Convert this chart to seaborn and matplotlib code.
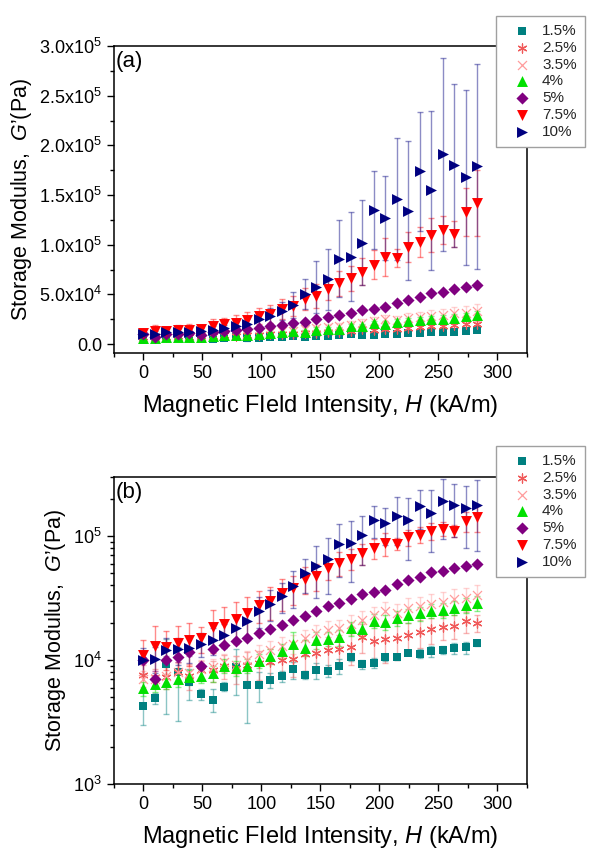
import numpy as np
import pandas as pd
import seaborn as sns
import matplotlib.pyplot as plt
from matplotlib.ticker import MultipleLocator, FuncFormatter, LogLocator, NullFormatter

sns.set_theme(style="ticks")
plt.rcParams['font.family'] = ['Liberation Sans', 'DejaVu Sans']
plt.rcParams['mathtext.fontset'] = 'custom'
plt.rcParams['mathtext.rm'] = 'Liberation Sans'
plt.rcParams['mathtext.it'] = 'Liberation Sans:italic'
plt.rcParams['mathtext.bf'] = 'Liberation Sans:bold'

# magnetic field intensity (kA/m)
H = [0, 9.8, 19.5, 29.3, 39.0, 48.8, 58.6, 68.3, 78.1, 87.8, 97.6, 107.4, 117.1, 126.9, 136.6,
     146.4, 156.2, 165.9, 175.7, 185.4, 195.2, 205.0, 214.7, 224.5, 234.2, 244.0, 253.8, 263.5, 273.3, 283.0]

# storage modulus G' (Pa) and error per concentration
g15 = [4.3e3, 4.9e3, 9.3e3, 8.0e3, 6.6e3, 5.3e3, 4.8e3, 6.1e3, 8.8e3, 6.3e3, 6.3e3, 6.9e3, 7.4e3, 8.4e3, 7.6e3,
       8.3e3, 8.2e3, 9.0e3, 1.06e4, 9.3e3, 9.5e3, 1.05e4, 1.06e4, 1.14e4, 1.13e4, 1.18e4, 1.21e4, 1.25e4, 1.27e4, 1.37e4]
e15 = [1.3e3, 0.5e3, 5.6e3, 4.8e3, 1.8e3, 0.5e3, 1.0e3, 0.5e3, 3.6e3, 3.2e3, 1.7e3, 0.9e3, 0.8e3, 1.3e3, 0.5e3,
       1.2e3, 0.9e3, 1.3e3, 0.8e3, 0.8e3, 0.9e3, 0.6e3, 0.5e3, 0.5e3, 0.9e3, 1.2e3, 1.0e3, 1.3e3, 1.4e3, 0.6e3]

g25 = [7.6e3, 7.3e3, 7.3e3, 8.0e3, 7.5e3, 8.3e3, 8.3e3, 9.0e3, 8.6e3, 9.2e3, 9.4e3, 9.7e3, 1.0e4, 1.03e4, 1.13e4,
       1.15e4, 1.2e4, 1.22e4, 1.28e4, 1.55e4, 1.43e4, 1.47e4, 1.5e4, 1.6e4, 1.67e4, 1.77e4, 1.86e4, 1.9e4, 2.05e4, 2.0e4]
e25 = [1.5e3, 1.2e3, 1.5e3, 1.6e3, 1.8e3, 1.5e3, 1.6e3, 2.0e3, 2.2e3, 2.4e3, 2.5e3, 2.5e3, 2.6e3, 3.0e3, 3.2e3,
       3.0e3, 3.4e3, 3.6e3, 3.6e3, 4.0e3, 5.2e3, 5.2e3, 5.0e3, 4.0e3, 4.2e3, 4.2e3, 4.0e3, 4.2e3, 4.0e3, 3.0e3]

g35 = [7.0e3, 7.0e3, 7.5e3, 8.0e3, 7.8e3, 8.5e3, 8.8e3, 9.6e3, 9.2e3, 1.0e4, 1.12e4, 1.2e4, 1.3e4, 1.35e4, 1.5e4,
       1.65e4, 1.75e4, 1.8e4, 1.95e4, 2.1e4, 2.3e4, 2.5e4, 2.4e4, 2.65e4, 2.75e4, 2.85e4, 2.95e4, 3.1e4, 3.15e4, 3.35e4]
e35 = [1.2e3, 1.2e3, 1.3e3, 1.5e3, 1.4e3, 1.5e3, 1.5e3, 1.6e3, 1.5e3, 1.8e3, 2.0e3, 2.2e3, 2.5e3, 2.4e3, 2.6e3,
       2.8e3, 3.0e3, 3.0e3, 3.5e3, 3.8e3, 4.0e3, 4.2e3, 4.2e3, 5.0e3, 5.0e3, 5.5e3, 6.0e3, 6.5e3, 6.8e3, 7.0e3]

g4 = [5.9e3, 6.4e3, 6.7e3, 7.1e3, 7.3e3, 7.5e3, 7.8e3, 9.0e3, 8.7e3, 9.0e3, 9.9e3, 1.08e4, 1.19e4, 1.35e4, 1.26e4,
      1.45e4, 1.49e4, 1.53e4, 1.8e4, 1.77e4, 2.08e4, 2.02e4, 2.18e4, 2.3e4, 2.38e4, 2.5e4, 2.55e4, 2.65e4, 2.78e4, 2.88e4]
e4 = [0.8e3, 0.9e3, 0.9e3, 1.0e3, 1.0e3, 1.0e3, 1.1e3, 1.2e3, 1.2e3, 1.2e3, 1.3e3, 1.5e3, 1.6e3, 3.5e3, 1.8e3,
      2.2e3, 2.0e3, 2.2e3, 2.4e3, 2.5e3, 2.8e3, 2.8e3, 3.0e3, 3.0e3, 3.2e3, 3.3e3, 3.5e3, 3.5e3, 3.8e3, 4.0e3]

g5 = [1.0e4, 7.1e3, 1.0e4, 1.05e4, 1.16e4, 8.9e3, 1.22e4, 1.32e4, 1.43e4, 1.52e4, 1.66e4, 1.78e4, 1.92e4, 2.1e4, 2.25e4,
      2.5e4, 2.75e4, 2.9e4, 3.1e4, 3.4e4, 3.55e4, 3.7e4, 4.1e4, 4.4e4, 4.7e4, 5.1e4, 5.2e4, 5.5e4, 5.75e4, 5.95e4]
e5 = [0.6e3, 1.0e3, 0.8e3, 0.8e3, 0.8e3, 0.6e3, 0.6e3, 0.5e3, 0.5e3, 0.5e3, 0.5e3, 0.5e3, 0.5e3, 0.5e3, 0.5e3,
      0.6e3, 0.6e3, 0.6e3, 0.7e3, 0.7e3, 0.7e3, 0.8e3, 0.8e3, 0.9e3, 0.9e3, 1.0e3, 1.0e3, 1.1e3, 1.1e3, 1.2e3]

g75 = [1.1e4, 1.3e4, 1.28e4, 1.37e4, 1.45e4, 1.5e4, 1.84e4, 1.97e4, 2.15e4, 2.4e4, 2.8e4, 3.0e4, 3.5e4, 3.8e4, 4.5e4,
       4.8e4, 5.5e4, 6.1e4, 6.6e4, 7.3e4, 8.0e4, 8.8e4, 8.7e4, 9.8e4, 1.03e5, 1.1e5, 1.15e5, 1.11e5, 1.33e5, 1.42e5]
e75 = [3.5e3, 6.0e3, 4.5e3, 5.0e3, 5.5e3, 3.5e3, 7.0e3, 7.0e3, 8.0e3, 8.5e3, 8.0e3, 9.0e3, 1.0e4, 1.0e4, 1.1e4,
       1.2e4, 1.1e4, 1.3e4, 1.3e4, 1.4e4, 1.5e4, 1.9e4, 9.0e3, 1.5e4, 1.5e4, 1.7e4, 1.4e4, 1.3e4, 2.4e4, 3.3e4]

g10 = [1.0e4, 1.03e4, 1.2e4, 1.22e4, 1.25e4, 1.35e4, 1.45e4, 1.6e4, 1.8e4, 2.05e4, 2.5e4, 2.85e4, 3.3e4, 3.95e4, 5.0e4,
       5.75e4, 6.5e4, 8.6e4, 8.8e4, 1.02e5, 1.35e5, 1.27e5, 1.46e5, 1.34e5, 1.74e5, 1.55e5, 1.91e5, 1.8e5, 1.68e5, 1.79e5]
e10 = [2.5e3, 2.5e3, 3.0e3, 3.0e3, 3.0e3, 3.0e3, 3.5e3, 3.5e3, 4.0e3, 5.0e3, 7.0e3, 8.0e3, 9.0e3, 1.3e4, 1.5e4,
       2.6e4, 3.1e4, 3.9e4, 4.5e4, 4.3e4, 3.9e4, 4.2e4, 6.1e4, 7.0e4, 6.0e4, 8.0e4, 9.7e4, 8.2e4, 8.8e4, 1.03e5]

labels = ['1.5%', '2.5%', '3.5%', '4%', '5%', '7.5%', '10%']
values = [g15, g25, g35, g4, g5, g75, g10]
errors = [e15, e25, e35, e4, e5, e75, e10]

colors = ['#008080', '#F05A5A', '#FF9C9C', '#00E000', '#800080', '#FF0000', '#000080']
markers = ['s', (6, 2, 0), 'x', '^', 'D', 'v', '>']
sizes = [36, 42, 42, 62, 38, 62, 62]


def sci_label(v, pos):
    if v < 0:
        return ''
    if v < 1:
        return '0.0'
    e = int(np.floor(np.log10(v)))
    return r'%.1fx10$^{%d}$' % (v / 10 ** e, e)


def draw_panel(ax, tag, log=False):
    for lab, vals, err, c, m, s in zip(labels, values, errors, colors, markers, sizes):
        ax.errorbar(H, vals, yerr=err, fmt='none', ecolor=c, alpha=0.45,
                    elinewidth=1, capsize=2.5, capthick=1, zorder=2)
        filled = m not in ['x', (6, 2, 0)]
        if filled:
            sns.scatterplot(x=H, y=vals, ax=ax, color=c, marker=m, s=s,
                            linewidth=0, label=lab, zorder=3)
        else:
            sns.scatterplot(x=H, y=vals, ax=ax, color=c, marker=m, s=s,
                            linewidth=0.9, label=lab, zorder=3)

    ax.set_xlim(-25, 325)
    ax.xaxis.set_major_locator(MultipleLocator(50))
    ax.xaxis.set_minor_locator(MultipleLocator(25))

    if log:
        ax.set_yscale('log')
        ax.set_ylim(1e3, 3e5)
        ax.yaxis.set_major_locator(LogLocator(base=10, numticks=10))
        ax.yaxis.set_minor_locator(LogLocator(base=10, subs=np.arange(2, 10), numticks=10))
        ax.yaxis.set_minor_formatter(NullFormatter())
    else:
        ax.set_ylim(-9e3, 3e5)
        ax.yaxis.set_major_locator(MultipleLocator(5e4))
        ax.yaxis.set_minor_locator(MultipleLocator(2.5e4))
        ax.yaxis.set_major_formatter(FuncFormatter(sci_label))

    ax.tick_params(axis='both', which='major', direction='out', length=5, width=1,
                   labelsize=13, color='black', labelcolor='black')
    ax.tick_params(axis='both', which='minor', direction='out', length=3, width=1, color='black')
    for sp in ax.spines.values():
        sp.set_color('black')
        sp.set_linewidth(1.1)

    ax.set_xlabel('Magnetic FIeld Intensity, $\\mathit{H}$ (kA/m)', fontsize=17, labelpad=8, color='black')
    ax.set_ylabel("Storage Modulus,  $\\mathit{G}$\u2019(Pa)", fontsize=15.5, labelpad=4, color='black')
    ax.text(0.005, 0.985, tag, transform=ax.transAxes, ha='left', va='top', fontsize=16, color='black')


fig = plt.figure(figsize=(5.93, 8.5), dpi=100)
ax_a = fig.add_axes([0.1922, 0.5847, 0.6965, 0.3612])
ax_b = fig.add_axes([0.1922, 0.0776, 0.6965, 0.3612])

draw_panel(ax_a, '(a)')
draw_panel(ax_b, '(b)', log=True)

for ax, top in [(ax_a, 0.9906), (ax_b, 0.4847)]:
    leg = ax.legend(loc='upper right', bbox_to_anchor=(0.9995, top), bbox_transform=fig.transFigure,
                    fontsize=11, frameon=True, fancybox=False, framealpha=1, edgecolor='#a0a0a0',
                    handlelength=2.3, handletextpad=0.15, labelspacing=0.18, borderpad=0.55, scatterpoints=1)
    leg.get_frame().set_linewidth(1.0)
    leg.set_zorder(10)

fig.savefig('out.png', dpi=100)
